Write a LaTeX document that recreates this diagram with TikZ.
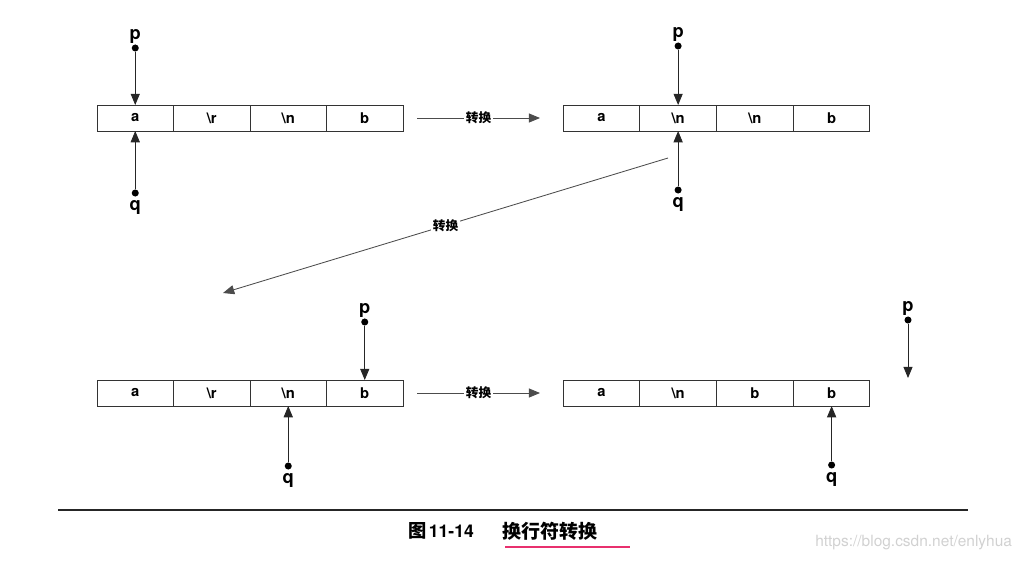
\documentclass[tikz,border=0pt]{standalone}
\usepackage{fontspec}
\setsansfont{TeX Gyre Heros}
\newfontfamily\cjk{Noto Sans CJK SC}
\usetikzlibrary{arrows.meta, positioning}
\definecolor{csdnpink}{RGB}{232,48,110}

\tikzset{
    cell/.style={draw=black!80, line width=0.6pt, minimum width=1.9125cm, minimum height=0.65cm,
                 inner sep=0pt, outer sep=0pt, font=\sffamily\bfseries\fontsize{10.5}{12}\selectfont},
    dot/.style={circle, fill=black, inner sep=0pt, minimum size=5pt},
    ptrlabel/.style={font=\sffamily\bfseries\fontsize{13}{15}\selectfont, inner sep=0.5pt},
    ptr/.style={draw=black!85, line width=0.6pt, -{Triangle[length=8pt, width=6.5pt]}},
    conv/.style={draw=black!70, line width=0.6pt, -{Triangle[length=8pt, width=6.5pt]}},
    convlabel/.style={font=\cjk\bfseries\small, fill=white, inner sep=1pt}
}

\begin{document}
\begin{tikzpicture}[x=0.025cm, y=-0.025cm]
    \useasboundingbox (0,0) rectangle (1026,562);

    % --- Tableau 1 : a \r \n b ---
    \foreach \t [count=\i] in {a, \textbackslash r, \textbackslash n, b} {
        \node[cell] (A\i) at ({97+76.5*(\i-0.5)},118) {\t};
    }
    \node[dot] (pA) at (A1.north |- 0,48) {};
    \node[ptrlabel, above=0pt of pA] (pAl) {p};
    \draw[ptr] (pA) -- (A1.north);
    \node[dot] (qA) at (A1.south |- 0,193) {};
    \node[ptrlabel, below=2pt of qA] (qAl) {q};
    \draw[ptr] (qA) -- (A1.south);

    % --- Tableau 2 : a \n \n b ---
    \foreach \t [count=\i] in {a, \textbackslash n, \textbackslash n, b} {
        \node[cell] (B\i) at ({563+76.75*(\i-0.5)},118) {\t};
    }
    \node[dot] (pB) at (B2.north |- 0,46) {};
    \node[ptrlabel, above=0pt of pB] (pBl) {p};
    \draw[ptr] (pB) -- (B2.north);
    \node[dot] (qB) at (B2.south |- 0,190) {};
    \node[ptrlabel, below=2pt of qB] (qBl) {q};
    \draw[ptr] (qB) -- (B2.south);

    % --- Tableau 3 : a \r \n b ---
    \foreach \t [count=\i] in {a, \textbackslash r, \textbackslash n, b} {
        \node[cell] (C\i) at ({97+76.5*(\i-0.5)},393) {\t};
    }
    \node[dot] (pC) at (C4.north |- 0,322) {};
    \node[ptrlabel, above=0pt of pC] (pCl) {p};
    \draw[ptr] (pC) -- (C4.north);
    \node[dot] (qC) at (C3.south |- 0,466) {};
    \node[ptrlabel, below=2pt of qC] (qCl) {q};
    \draw[ptr] (qC) -- (C3.south);

    % --- Tableau 4 : a \n b b ---
    \foreach \t [count=\i] in {a, \textbackslash n, b, b} {
        \node[cell] (D\i) at ({563+76.75*(\i-0.5)},393) {\t};
    }
    \node[dot] (pD) at (908,320) {};
    \node[ptrlabel, above=0pt of pD] (pDl) {p};
    \coordinate (pDe) at (908,378);
    \draw[ptr] (pD) -- (pDe);
    \node[dot] (qD) at (D4.south |- 0,465) {};
    \node[ptrlabel, below=2pt of qD] (qDl) {q};
    \draw[ptr] (qD) -- (D4.south);

    % --- Fleches de conversion ---
    \coordinate (c1s) at (417,118);
    \coordinate (c1e) at (540,118);
    \draw[conv] (c1s) -- node[convlabel] (c1l) {转换} (c1e);

    \coordinate (c2s) at (668,158);
    \coordinate (c2e) at (223,293);
    \draw[conv] (c2s) -- node[convlabel] (c2l) {转换} (c2e);

    \coordinate (c3s) at (417,393);
    \coordinate (c3e) at (540,393);
    \draw[conv] (c3s) -- node[convlabel] (c3l) {转换} (c3e);

    % --- Legende ---
    \draw[black!85, line width=1.4pt] (58,510) -- (968,510);
    \node[anchor=west, inner sep=0pt] (fignum) at (408,531)
        {{\cjk\bfseries\fontsize{13}{15}\selectfont 图}\,{\sffamily\bfseries\fontsize{12.5}{15}\selectfont 11-14}};
    \node[anchor=west, inner sep=0pt, font=\cjk\bfseries\fontsize{13.5}{15}\selectfont] (figtitle) at (502,531) {换行符转换};
    \draw[csdnpink, line width=1.5pt] (505,547) -- (630,547);
    \node[anchor=west, inner sep=0pt, text=black!18, font=\sffamily\fontsize{11}{13}\selectfont] (wm) at (815,543)
        {https://blog.csdn.net/enlyhua};
\end{tikzpicture}
\end{document}
